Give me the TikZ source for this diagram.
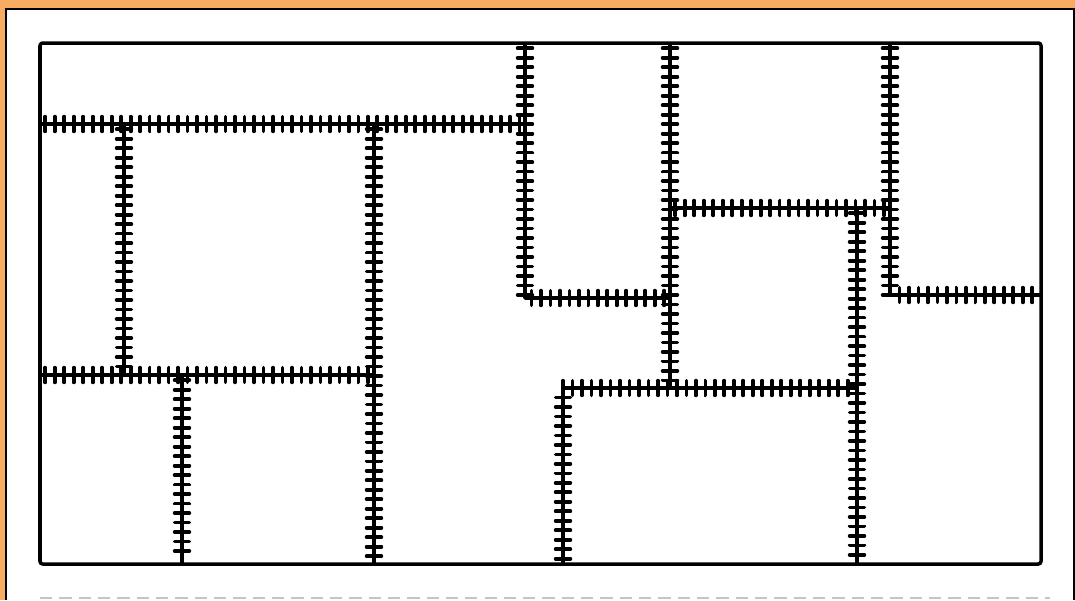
\documentclass[tikz,border=0pt]{standalone}
\usetikzlibrary{decorations.markings}
\definecolor{fondoNaranja}{HTML}{F7AC62}
\definecolor{bordeGris}{HTML}{C4C4C4}

\begin{document}
\begin{tikzpicture}[x=0.02cm, y=-0.02cm,
        muro/.style={line width=2pt, line join=round, rounded corners=1.5pt},
        via/.style={line width=2pt, line join=round, postaction={decorate},
            decoration={markings, mark=between positions 3pt and -2pt step 5.4pt with
                {\draw[line width=2.1pt, line cap=round] (0,-4.2pt) -- (0,4.2pt);}}}
    ]
    \useasboundingbox (0,0) rectangle (1075,600);
    % fondo y hoja
    \fill[fondoNaranja] (0,0) rectangle (1075,600);
    \fill[white] (6,9) rectangle (1074,600);
    \draw[line width=1.4pt] (6,600) -- (6,9) -- (1074,9) -- (1074,600);
    \draw[bordeGris, line width=0.8pt, dash pattern=on 7pt off 4pt] (40,598) -- (1050,598);

    % esquinas del plano
    \coordinate (so) at (40,43);
    \coordinate (ie) at (1041,564);

    % cruces de las vias
    \coordinate (h1a) at (40,124);   \coordinate (h1b) at (525,124);
    \coordinate (v1a) at (525,43);   \coordinate (v1b) at (525,298);  \coordinate (v1c) at (668,298);
    \coordinate (v2a) at (670,43);   \coordinate (v2b) at (670,388);
    \coordinate (h2a) at (670,208);  \coordinate (h2b) at (890,208);
    \coordinate (v3a) at (857,208);  \coordinate (v3b) at (857,564);
    \coordinate (h3a) at (563,564);  \coordinate (h3b) at (563,388);  \coordinate (h3c) at (857,388);
    \coordinate (v4a) at (890,43);   \coordinate (v4b) at (890,295);  \coordinate (v4c) at (1041,295);
    \coordinate (c1a) at (124,124);  \coordinate (c1b) at (124,375);
    \coordinate (h4a) at (40,375);   \coordinate (h4b) at (374,375);
    \coordinate (c2a) at (374,124);  \coordinate (c2b) at (374,564);
    \coordinate (c3a) at (182,375);  \coordinate (c3b) at (182,564);

    \draw[via] (h1a) -- (h1b);
    \draw[via] (v1a) -- (v1b) -- (v1c);
    \draw[via] (v2a) -- (v2b);
    \draw[via] (h2a) -- (h2b);
    \draw[via] (v3a) -- (v3b);
    \draw[via] (h3a) -- (h3b) -- (h3c);
    \draw[via] (v4a) -- (v4b) -- (v4c);
    \draw[via] (c1a) -- (c1b);
    \draw[via] (h4a) -- (h4b);
    \draw[via] (c2a) -- (c2b);
    \draw[via] (c3a) -- (c3b);

    \draw[muro] (so) rectangle (ie);
\end{tikzpicture}
\end{document}
